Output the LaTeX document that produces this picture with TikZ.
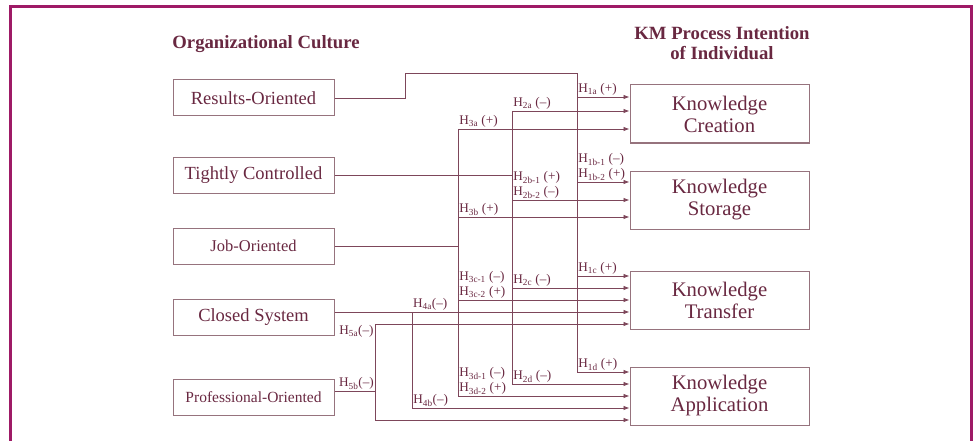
\documentclass[tikz,border=0pt]{standalone}
\usepackage{fontspec}
\setmainfont{Liberation Serif}
\usetikzlibrary{arrows.meta,positioning}
\definecolor{framepink}{RGB}{158,26,102}
\definecolor{inkred}{RGB}{105,40,65}
\definecolor{wirered}{RGB}{125,70,90}
\definecolor{boxgray}{RGB}{150,115,125}
\tikzset{
  culture/.style={draw=boxgray,line width=1pt,minimum width=161pt,minimum height=36pt,inner sep=0pt,text=inkred},
  process/.style={draw=boxgray,line width=1pt,minimum width=179pt,minimum height=58pt,inner sep=0pt,align=center,text=inkred,font=\fontsize{20.7}{22}\selectfont},
  title/.style={font=\fontsize{18.7}{20}\selectfont\bfseries,text=inkred,align=center},
  hyp/.style={font=\fontsize{13.2}{15}\selectfont,text=inkred,inner sep=1pt,align=left},
  wire/.style={draw=wirered,line width=0.8pt},
}
\newcommand{\Hy}[1]{H\textsubscript{#1}}

\begin{document}
\begin{tikzpicture}[x=1pt,y=-1pt,>={Latex[length=6pt,width=4.5pt]}]
\useasboundingbox (0,0) rectangle (974,441);
\draw[framepink,line width=3pt] (10,441) -- (10,7) -- (971,7) -- (971,441);

% titles
\node[title] (culturetitle) at (266,44) {Organizational Culture};
\node[title] (kmtitle) at (722,43) {KM Process Intention\\of Individual};

% culture boxes
\node[culture,font=\fontsize{18.5}{20}\selectfont] (results) at (253.5,98) {Results-Oriented};
\node[culture,font=\fontsize{18.5}{20}\selectfont] (tight) at (253.5,175) {Tightly Controlled};
\node[culture,font=\fontsize{16.5}{18}\selectfont] (job) at (253.5,246) {Job-Oriented};
\node[culture,font=\fontsize{18.5}{20}\selectfont] (closed) at (253.5,317) {Closed System};
\node[culture,font=\fontsize{15.5}{17}\selectfont] (prof) at (253.5,397) {Professional-Oriented};

% process boxes
\node[process] (creation) at (719.5,114) {Knowledge\\Creation};
\node[process] (storage) at (719.5,200) {Knowledge\\Storage};
\node[process] (transfer) at (719.5,300) {Knowledge\\Transfer};
\node[process] (application) at (719.5,396) {Knowledge\\Application};

% arrow ends
\coordinate (c1) at ([yshift=17pt]creation.west);
\coordinate (c2) at ([yshift=3pt]creation.west);
\coordinate (c3) at ([yshift=-15pt]creation.west);
\coordinate (s1) at ([yshift=18pt]storage.west);
\coordinate (s2) at (storage.west);
\coordinate (s3) at ([yshift=-17pt]storage.west);
\coordinate (t1) at ([yshift=24pt]transfer.west);
\coordinate (t2) at ([yshift=12pt]transfer.west);
\coordinate (t3) at (transfer.west);
\coordinate (t4) at ([yshift=-12pt]transfer.west);
\coordinate (t5) at ([yshift=-24pt]transfer.west);
\coordinate (a1) at ([yshift=24pt]application.west);
\coordinate (a2) at ([yshift=12pt]application.west);
\coordinate (a3) at (application.west);
\coordinate (a4) at ([yshift=-12pt]application.west);
\coordinate (a5) at ([yshift=-24pt]application.west);

% buses
\coordinate (busR) at (577,73);
\coordinate (busT) at (512,0);
\coordinate (busJ) at (458,0);
\coordinate (busC) at (412,0);
\coordinate (busP) at (375,0);
\coordinate (profout) at ([yshift=6pt]prof.east);

% results-oriented
\draw[wire] (results.east) -- ++(71,0) |- (busR) -- (busR |- a1);
\draw[wire,->] (busR |- c1) -- (c1) node[hyp,pos=0,above right]{\Hy{1a} (+)};
\draw[wire,->] (busR |- s1) -- (s1) node[hyp,pos=0,above right]{\Hy{1b-1} (--)\\\Hy{1b-2} (+)};
\draw[wire,->] (busR |- t1) -- (t1) node[hyp,pos=0,above right]{\Hy{1c} (+)};
\draw[wire,->] (busR |- a1) -- (a1) node[hyp,pos=0,above right]{\Hy{1d} (+)};

% tightly controlled
\draw[wire] (tight.east) -- (tight.east -| busT);
\draw[wire] (busT |- c2) -- (busT |- a2);
\draw[wire,->] (busT |- c2) -- (c2) node[hyp,pos=0,above right]{\Hy{2a} (--)};
\draw[wire,->] (busT |- s2) -- (s2) node[hyp,pos=0,above right]{\Hy{2b-1} (+)\\\Hy{2b-2} (--)};
\draw[wire,->] (busT |- t2) -- (t2) node[hyp,pos=0,above right]{\Hy{2c} (--)};
\draw[wire,->] (busT |- a2) -- (a2) node[hyp,pos=0,above right]{\Hy{2d} (--)};

% job-oriented
\draw[wire] (job.east) -- (job.east -| busJ);
\draw[wire] (busJ |- c3) -- (busJ |- a3);
\draw[wire,->] (busJ |- c3) -- (c3) node[hyp,pos=0,above right]{\Hy{3a} (+)};
\draw[wire,->] (busJ |- s3) -- (s3) node[hyp,pos=0,above right]{\Hy{3b} (+)};
\draw[wire,->] (busJ |- t3) -- (t3) node[hyp,pos=0,above right]{\Hy{3c-1} (--)\\\Hy{3c-2} (+)};
\draw[wire,->] (busJ |- a3) -- (a3) node[hyp,pos=0,above right]{\Hy{3d-1} (--)\\\Hy{3d-2} (+)};

% closed system
\draw[wire,->] (closed.east |- t4) -- (t4);
\draw[wire] (busC |- t4) -- (busC |- a4);
\node[hyp,above right] (h4a) at (busC |- t4) {\Hy{4a}(--)};
\draw[wire,->] (busC |- a4) -- (a4) node[hyp,pos=0,above right]{\Hy{4b}(--)};

% professional-oriented
\draw[wire] (profout) -- (profout -| busP);
\draw[wire] (busP |- t5) -- (busP |- a5);
\draw[wire,->] (busP |- t5) -- (t5) node[hyp,pos=0,below left]{\Hy{5a}(--)};
\draw[wire,->] (busP |- a5) -- (a5);
\node[hyp,above left] (h5b) at (profout -| busP) {\Hy{5b}(--)};

\end{tikzpicture}
\end{document}
